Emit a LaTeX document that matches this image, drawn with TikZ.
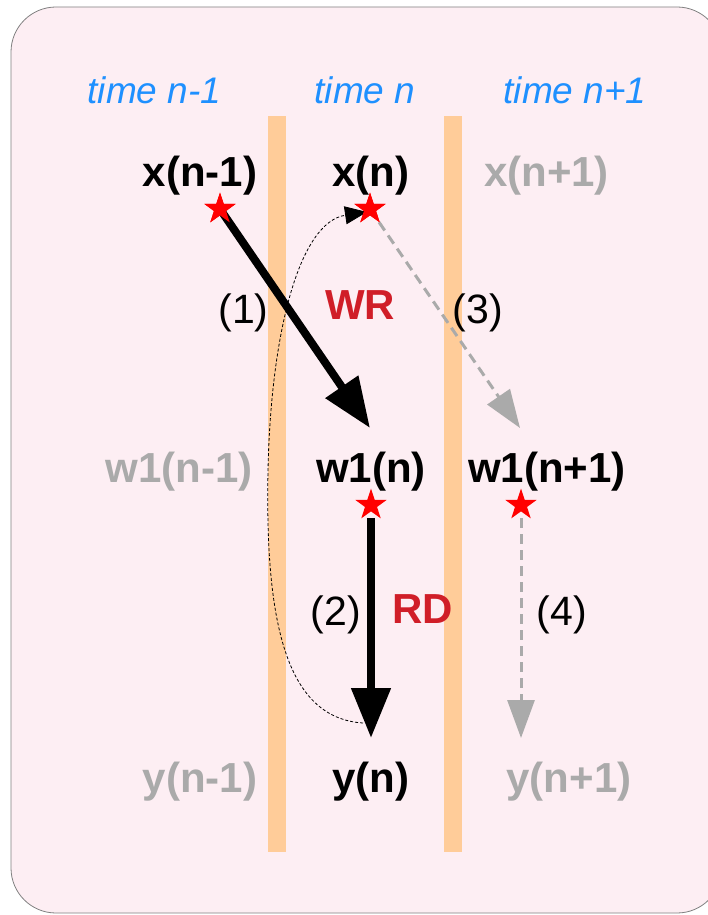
\documentclass[tikz,border=0pt]{standalone}
\usepackage{fontspec}
\setmainfont{Liberation Sans}
\usetikzlibrary{arrows.meta,shapes.geometric}
\definecolor{boxpink}{RGB}{253,238,243}
\definecolor{barorange}{RGB}{255,204,153}
\definecolor{timeblue}{RGB}{30,144,255}
\definecolor{opred}{RGB}{208,30,40}
\definecolor{lightgray}{RGB}{170,170,170}
\tikzset{
  timelbl/.style={anchor=base,inner sep=0pt,text=timeblue,font=\fontsize{37}{41}\selectfont\itshape},
  varlbl/.style={anchor=base,inner sep=0pt,font=\fontsize{42}{48}\selectfont\bfseries},
  ghost/.style={varlbl,text=lightgray},
  numlbl/.style={anchor=base,inner sep=0pt,font=\fontsize{41}{46}\selectfont},
  oplbl/.style={anchor=base,inner sep=0pt,text=opred,font=\fontsize{42}{48}\selectfont\bfseries},
  redstar/.style={star,star points=5,star point ratio=2.6,fill=red,draw=none,minimum size=33pt,inner sep=0pt},
  bigarrow/.style={line width=8pt,-{Triangle[length=50pt,width=38pt]}},
  ghostarrow/.style={line width=3pt,draw=lightgray,dash pattern=on 10pt off 6pt,-{Triangle[length=38pt,width=27pt,fill=lightgray]}},
  hintarrow/.style={line width=0.8pt,dash pattern=on 3pt off 2pt,-{Triangle[length=22pt,width=18pt]}},
  bar/.style={fill=barorange,draw=none}
}
\begin{document}
\begin{tikzpicture}[x=1pt,y=-1pt]
\useasboundingbox (0,0) rectangle (708,915);
\draw[fill=boxpink,draw=gray,line width=0.8pt,rounded corners=45pt] (11,7) rectangle (722,913);
\fill[bar] (268,116) rectangle (286,852);
\fill[bar] (444,116) rectangle (462,852);

\node[timelbl] (t0) at (154.5,104) {time n-1};
\node[timelbl] (t1) at (365,104) {time n};
\node[timelbl] (t2) at (575,104) {time n+1};

\node[varlbl] (x0) at (200,186) {x(n-1)};
\node[varlbl] (x1) at (371,186) {x(n)};
\node[ghost] (x2) at (546.5,186) {x(n+1)};

\node[ghost] (w0) at (179,482) {w1(n-1)};
\node[varlbl] (w1) at (371,482) {w1(n)};
\node[varlbl] (w2) at (547,482) {w1(n+1)};

\node[ghost] (y0) at (200,792) {y(n-1)};
\node[varlbl] (y1) at (371,792) {y(n)};
\node[ghost] (y2) at (569,792) {y(n+1)};

\node[redstar] (sx0) at (220,209) {};
\node[redstar] (sx1) at (370,209) {};
\node[redstar] (sw1) at (371,505) {};
\node[redstar] (sw2) at (521,505) {};

\coordinate (tip1) at (370,428);
\coordinate (tip2) at (371,738);
\coordinate (tip3) at (520,428);
\coordinate (tip4) at (521,738);
\coordinate (start2) at (371,518);
\coordinate (start4) at (521,518);
\coordinate (hstart) at (363,723);
\coordinate (hmid) at (268,470);
\coordinate (htip) at (367,212);

\draw[ghostarrow] (sx1.center) -- (tip3);
\draw[ghostarrow] (start4) -- (tip4);
\draw[hintarrow] (hstart) .. controls (285,718) and (265,620) .. (hmid)
  .. controls (271,330) and (300,222) .. (htip);
\node[redstar] at (sx1) {};
\draw[bigarrow] (sx0.center) -- (tip1);
\node[redstar] at (sx0) {};
\draw[bigarrow] (start2) -- (tip2);

\node[numlbl] (l1) at (243.5,323) {(1)};
\node[oplbl] (wr) at (360,319) {WR};
\node[numlbl] (l3) at (478,323) {(3)};
\node[numlbl] (l2) at (336,625) {(2)};
\node[oplbl] (rd) at (423,623) {RD};
\node[numlbl] (l4) at (562,625) {(4)};
\end{tikzpicture}
\end{document}
